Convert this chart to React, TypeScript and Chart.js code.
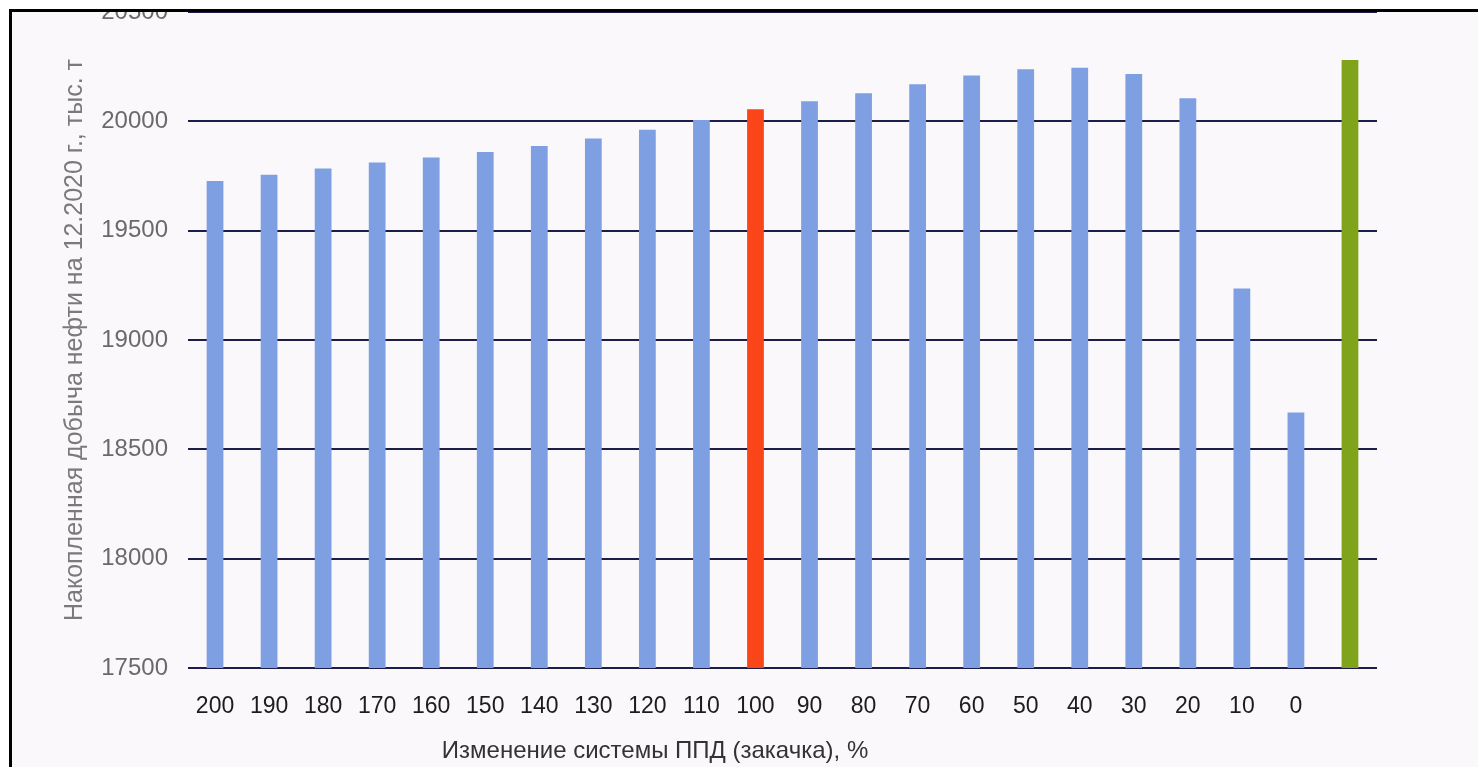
import React, { useEffect, useRef } from "react";
import { Chart, registerables } from "chart.js";

Chart.register(...registerables);

const categories = ["200", "190", "180", "170", "160", "150", "140", "130", "120", "110", "100", "90", "80", "70", "60", "50", "40", "30", "20", "10", "0", ""];
const production = [19727, 19756, 19784, 19812, 19835, 19860, 19887, 19922, 19962, 20006, 20055, 20092, 20128, 20170, 20210, 20238, 20245, 20217, 20105, 19235, 18668, 20280];
const yTicks = [17500, 18000, 18500, 19000, 19500, 20000, 20500];

const baseCategory = "100";
const noInjectionCategory = "";

const BLUE = "#7e9fe2";
const RED = "#fa4519";
const GREEN = "#80a31c";
const BG = "#faf8fa";
const FONT = "'Liberation Sans', Arial, sans-serif";

export default function App() {
  const canvasRef = useRef<HTMLCanvasElement | null>(null);

  useEffect(() => {
    if (!canvasRef.current) return;
    const colors = categories.map((c) =>
      c === baseCategory ? RED : c === noInjectionCategory ? GREEN : BLUE
    );
    const chart = new Chart(canvasRef.current, {
      type: "bar",
      data: {
        labels: categories,
        datasets: [
          {
            data: production,
            backgroundColor: colors,
            borderWidth: 0,
            barPercentage: 0.31,
            categoryPercentage: 1,
          },
        ],
      },
      options: {
        animation: false,
        responsive: false,
        layout: { padding: { left: 56, top: 12, right: 101, bottom: 0 } },
        plugins: {
          legend: { display: false },
          tooltip: { enabled: false },
        },
        scales: {
          x: {
            grid: { display: false, drawTicks: false },
            border: { display: false },
            ticks: {
              color: "#1c1c1c",
              font: { family: FONT, size: 23 },
              padding: 25,
              maxRotation: 0,
              autoSkip: false,
            },
            afterFit: (scale: any) => {
              scale.height = 99;
              scale.paddingLeft = 0;
              scale.paddingRight = 0;
            },
          },
          y: {
            min: 17500,
            max: 20500,
            afterBuildTicks: (scale: any) => {
              scale.ticks = yTicks.map((v) => ({ value: v }));
            },
            grid: { color: "#1d1d4a", lineWidth: 2, drawTicks: false },
            border: { display: false },
            ticks: {
              color: "#6a6a6a",
              font: { family: FONT, size: 24 },
              padding: 20,
              callback: (v: any) => String(v),
            },
            title: {
              display: true,
              text: "Накопленная добыча нефти на 12.2020 г., тыс. т",
              color: "#7a7a7a",
              font: { family: FONT, size: 25 },
              padding: { top: 4, bottom: 4 },
            },
            afterFit: (scale: any) => {
              scale.width = 132;
              scale.paddingTop = 0;
              scale.paddingBottom = 0;
            },
          },
        },
      },
    });
    return () => chart.destroy();
  }, []);

  return (
    <div style={{ position: "absolute", left: 0, top: 0, width: 1478, height: 767, background: BG, overflow: "hidden" }}>
      <canvas ref={canvasRef} width={1478} height={767} style={{ position: "absolute", left: 0, top: 0 }} />
      <div style={{ position: "absolute", left: 0, top: 0, width: 1478, height: 9, background: "#ffffff" }} />
      <div style={{ position: "absolute", left: 0, top: 0, width: 9, height: 767, background: "#ffffff" }} />
      <div
        style={{
          position: "absolute",
          left: 9,
          top: 9,
          right: 0,
          bottom: 0,
          borderTop: "3px solid #000",
          borderLeft: "3px solid #000",
          pointerEvents: "none",
        }}
      />
      <div
        style={{
          position: "absolute",
          left: 655,
          top: 750,
          transform: "translate(-50%, -50%)",
          whiteSpace: "nowrap",
          fontFamily: FONT,
          fontSize: 24,
          color: "#333333",
        }}
      >
        Изменение системы ППД (закачка), %
      </div>
    </div>
  );
}
